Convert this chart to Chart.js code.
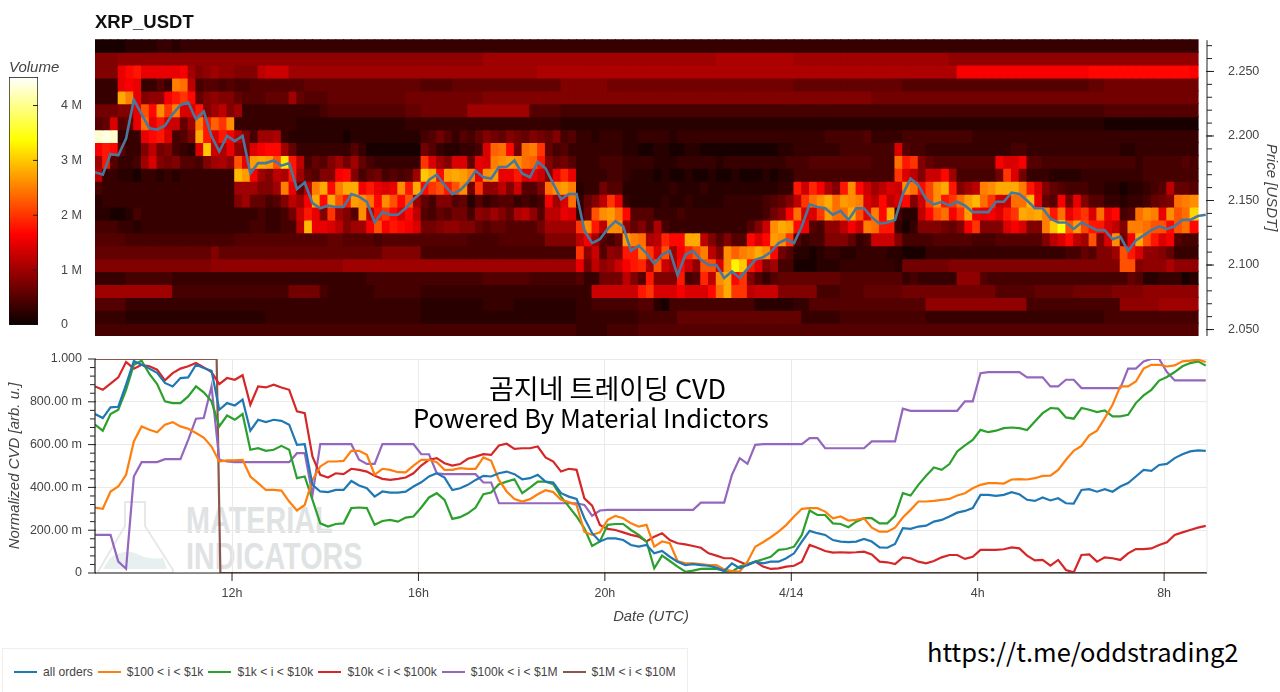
<!DOCTYPE html>
<html>
<head>
<meta charset="utf-8">
<title>XRP_USDT</title>
<script src="https://cdn.jsdelivr.net/npm/chart.js@4/dist/chart.umd.min.js"></script>
<style>
  html, body { margin: 0; padding: 0; background: #fff; width: 1280px; height: 692px; overflow: hidden; }
  canvas { position: absolute; display: block; }
  #barCanvas { left: 0; top: 55px; }
  #heatCanvas { left: 0; top: 0; }
  #cvdCanvas { left: 0; top: 345px; }
  .note { position: absolute; color: #000; white-space: nowrap; font-family: "Noto Sans CJK KR", "Noto Sans", sans-serif; }
  .mark { position: absolute; left: 186px; color: #dfe3e3; font: bold 36px "Liberation Sans", sans-serif; transform: scaleX(0.8); transform-origin: left top; white-space: nowrap; }
  #flask { position: absolute; left: 95px; top: 500px; }
  #legend { position: absolute; left: 2px; top: 648px; width: 686px; height: 48px; box-sizing: border-box; border: 1px solid #eee; display: flex; align-items: center; padding-left: 11px; font: 12.1px "Liberation Sans", sans-serif; color: #444; }
  #legend i { display: inline-block; width: 23px; height: 2px; margin-right: 6px; }
  #legend span { margin-right: 5px; white-space: nowrap; display: flex; align-items: center; }
</style>
</head>
<body>
<svg id="flask" width="82" height="74" viewBox="0 0 82 74">
  <path d="M30 2 H50 V26 L78 70 Q79 73 75 73 H6 Q2 73 4 70 L30 26 Z" fill="none" stroke="#e6e9e9" stroke-width="2"/>
  <path d="M15 58 Q30 48 42 54 T68 58 L72 69 H8 Z" fill="#e8efef"/>
</svg>
<div class="mark" style="top:500px">MATERIAL</div>
<div class="mark" style="top:536px">INDICATORS</div>
<canvas id="barCanvas" width="95" height="280"></canvas>
<canvas id="heatCanvas" width="1280" height="345"></canvas>
<canvas id="cvdCanvas" width="1280" height="285"></canvas>
<div class="note" style="left:489px;top:368px;font-size:27px">곰지네 트레이딩 CVD</div>
<div class="note" style="left:413px;top:398px;font-size:25.7px">Powered By Material Indictors</div>
<div class="note" style="left:927px;top:632px;font-size:25.5px">https://t.me/oddstrading2</div>
<div id="legend"></div>
<script>
// hours counted from 00:00 on 4/13, axis runs 09:04 to 08:55 next day
const hourMin = 9.06
const hourMax = 32.92
const xTickHours = [12, 16, 20, 24, 28, 32]
const xTickLabels = ['12h', '16h', '20h', '4/14', '4h', '8h']

const priceBins = [2.27, 2.26, 2.25, 2.24, 2.23, 2.22, 2.21, 2.20, 2.19, 2.18, 2.17, 2.16, 2.15, 2.14, 2.13, 2.12, 2.11, 2.10, 2.09, 2.08, 2.07, 2.06, 2.05]
const priceTicks = [2.05, 2.10, 2.15, 2.20, 2.25]
const volumeTicks = [0, 1, 2, 3, 4]
const volumeTickLabels = ['0', '1 M', '2 M', '3 M', '4 M']
const cvdTicks = [0, 200, 400, 600, 800, 1000]
const cvdTickLabels = ['0', '200.00 m', '400.00 m', '600.00 m', '800.00 m', '1.000']
const cvdMinorTicks = [40, 80, 120, 160, 240, 280, 320, 360, 440, 480, 520, 560, 640, 680, 720, 760, 840, 880, 920, 960]

const seriesNames = ['all orders', '$100 < i < $1k', '$1k < i < $10k', '$10k < i < $100k', '$100k < i < $1M', '$1M < i < $10M']
const seriesColors = ['#1f77b4', '#ff7f0e', '#2ca02c', '#d62728', '#9467bd', '#8c564b']

// volume per price bin, one value per 10 min column, unit 0.1 M
const vol227 = [1,1,1,1,2,2,2,2,3,3, 2,3,3,3,3,3,3,3,3,3, 3,3,3,3,3,3,3,3,3,3, 3,3,3,3,3,3,3,3,3,3, 3,3,3,3,3,3,3,3,3,3, 3,3,3,3,3,3,3,3,3,3, 3,3,3,3,3,3,3,3,3,3, 3,3,3,3,3,3,3,3,3,3, 3,3,3,3,3,3,3,3,3,3, 3,3,3,3,3,3,3,3,3,3, 3,3,3,3,3,3,3,3,3,3, 3,3,3,3,3,3,3,3,3,3, 3,3,3,3,3,3,3,3,3,3, 3,3,3,3,3,3,3,3,3,3, 3,3]
const vol226 = [8,8,8,9,9,9,9,9,9,9, 9,9,9,9,9,9,9,9,9,9, 9,9,9,9,9,9,9,9,9,9, 9,9,9,9,9,9,9,9,9,9, 9,9,9,9,9,9,9,9,9,9, 10,10,10,10,10,10,10,10,10,10, 10,10,10,10,10,10,10,10,10,10, 10,10,10,10,10,10,10,10,10,10, 11,11,11,11,11,11,11,11,11,11, 10,10,10,10,10,10,10,10,10,10, 10,10,10,10,10,10,10,10,10,10, 9,9,9,9,9,9,9,9,9,9, 9,9,9,9,9,9,9,9,9,9, 9,9,9,9,9,9,9,9,9,9, 9,9]
const vol225 = [8,8,8,15,17,18,15,15,15,15, 15,16,10,8,9,10,9,9,8,8, 8,12,13,13,13,10,10,10,10,10, 10,10,10,10,10,10,10,10,10,10, 10,10,10,10,10,10,10,10,10,10, 10,10,10,10,10,10,10,11,11,11, 11,11,11,11,11,11,11,11,11,11, 11,11,11,11,11,11,11,11,11,11, 11,11,11,11,11,11,11,11,11,11, 11,11,11,11,11,11,11,11,11,11, 11,11,11,11,11,11,11,11,11,11, 11,16,16,16,16,16,16,16,16,16, 16,16,16,16,16,16,16,16,17,17, 17,17,17,17,17,17,17,17,17,17, 17,16]
const vol224 = [3,3,3,15,16,15,3,3,5,3, 25,24,12,4,5,5,4,5,4,4, 5,5,5,5,5,5,5,6,6,6, 6,6,6,6,6,6,6,6,6,6, 6,6,5,5,5,5,6,6,6,6, 6,6,6,6,6,6,6,6,6,6, 8,8,8,8,8,8,7,7,7,7, 7,7,7,7,7,7,7,7,7,7, 7,7,7,7,7,7,7,7,7,7, 6,6,6,6,6,6,6,6,6,6, 6,6,6,6,5,5,5,5,5,5, 5,5,5,5,5,5,5,5,5,5, 5,5,5,5,5,5,5,5,6,6, 7,7,7,7,7,7,7,7,7,7, 7,7]
const vol223 = [3,3,3,28,25,15,8,9,9,16, 18,20,17,6,8,9,8,8,6,5, 5,5,6,6,6,10,6,5,5,5, 6,6,6,6,6,6,6,6,6,6, 7,7,7,7,7,7,7,7,7,7, 8,8,8,8,8,8,8,8,8,8, 8,8,8,8,8,8,8,8,8,8, 8,8,8,8,8,8,8,8,8,8, 8,8,8,8,8,8,8,8,8,8, 8,8,8,8,8,8,8,8,8,8, 7,7,7,7,7,7,7,7,7,7, 7,7,7,7,7,7,7,7,7,7, 7,7,7,7,7,7,7,7,7,7, 7,7,7,7,7,7,7,7,7,7, 7,7]
const vol222 = [7,7,7,8,8,15,22,17,26,20, 25,14,14,18,8,10,12,8,10,3, 3,3,3,3,3,3,3,3,3,4, 5,5,5,5,5,5,5,5,5,5, 6,6,7,7,7,7,7,7,10,10, 10,10,10,10,10,10,5,5,5,5, 4,4,4,4,4,4,4,4,4,4, 4,4,4,4,4,4,4,4,4,4, 4,4,4,4,4,4,4,4,4,4, 4,4,4,4,4,4,4,4,4,4, 4,4,4,4,4,4,4,4,4,4, 4,4,4,4,4,4,4,4,4,4, 4,4,4,4,4,4,4,4,4,4, 5,5,5,5,5,5,5,5,5,5, 5,5]
const vol221 = [5,6,14,5,6,15,24,15,18,13, 13,6,10,25,18,23,20,26,3,3, 3,3,3,3,3,3,2,2,2,2, 2,2,2,2,2,2,2,2,2,2, 3,3,3,3,3,3,3,3,3,3, 3,3,3,3,3,3,3,3,3,3, 2,2,2,2,2,2,2,2,2,2, 2,2,2,2,2,2,2,2,2,2, 2,2,2,2,2,2,2,2,2,2, 2,2,2,2,2,2,2,2,2,2, 2,2,2,2,2,2,2,2,2,2, 2,2,2,2,2,2,2,2,2,2, 2,2,2,2,2,2,2,2,2,2, 1,1,1,1,1,1,1,1,1,1, 1,1]
const vol220 = [43,44,43,3,3,3,15,17,18,14, 4,5,8,28,18,14,18,16,12,8, 4,10,10,11,3,2,2,2,2,2, 2,2,1,2,2,2,2,2,2,2, 2,2,4,5,7,5,3,5,4,6, 8,7,6,8,7,6,8,7,6,8, 4,5,3,3,2,3,3,3,2,2, 3,3,3,3,2,3,3,3,3,3, 3,3,3,3,3,3,3,3,3,3, 3,3,3,3,4,4,4,4,4,5, 3,3,3,3,4,4,4,4,4,4, 4,4,4,3,3,3,3,3,3,3, 3,3,3,3,3,3,3,3,3,3, 3,3,3,3,3,3,3,3,3,3, 3,3]
const vol219 = [16,18,17,5,3,3,8,12,7,8, 4,3,2,14,30,13,11,15,9,8, 14,16,17,17,10,6,3,3,3,3, 3,3,3,5,3,1,1,1,1,1, 1,1,7,5,3,2,2,3,3,4, 14,23,24,17,7,24,25,20,6,4, 5,3,3,3,3,3,3,3,2,2, 1,1,2,2,1,1,2,2,1,1, 1,1,1,1,1,1,1,1,2,2, 3,3,3,3,3,3,4,4,4,4, 4,4,4,14,5,4,4,3,3,3, 3,3,3,3,3,3,3,3,4,4, 3,3,3,3,3,3,3,3,3,3, 3,3,2,2,3,3,3,3,3,3, 3,3]
const vol218 = [10,18,5,3,3,4,10,14,8,7, 8,5,5,4,8,10,11,9,22,15, 27,28,27,22,32,18,12,4,6,5, 8,10,7,10,6,4,3,3,3,3, 3,3,20,14,10,8,14,14,6,15, 14,25,26,27,26,24,23,18,8,6, 7,5,3,3,3,4,4,4,3,3, 3,3,2,2,2,3,3,3,3,3, 2,3,3,3,3,3,3,3,3,4, 4,4,5,5,5,5,5,5,5,5, 4,4,4,24,18,20,8,6,5,5, 5,5,5,5,5,5,16,14,14,16, 5,5,4,4,4,4,4,4,4,4, 4,4,4,4,3,4,4,4,4,4, 5,4]
const vol217 = [12,3,3,2,2,1,3,3,2,3, 2,3,3,3,3,3,3,3,29,27, 16,10,8,12,11,18,10,6,5,8, 8,16,17,8,4,6,7,4,5,4, 5,10,30,28,17,27,28,27,25,15, 26,27,15,15,18,14,15,13,8,15, 19,15,3,3,3,3,4,4,3,2, 2,2,1,2,1,1,2,1,1,2, 1,1,2,1,1,1,2,1,2,2, 4,4,4,4,4,4,4,4,4,4, 4,4,4,20,14,12,8,13,13,17, 10,4,4,4,4,4,7,20,14,7, 3,3,3,2,2,2,2,3,3,3, 3,3,3,3,3,4,4,4,4,4, 4,4]
const vol216 = [4,3,3,3,3,3,3,3,3,3, 3,3,3,3,3,3,3,3,10,10, 10,8,8,10,25,15,6,12,25,28, 17,25,28,28,16,18,15,14,15,26, 18,28,17,20,22,18,22,26,7,20, 9,9,12,8,13,5,5,8,24,26, 27,25,2,3,3,7,5,5,2,2, 2,2,2,2,3,2,2,2,3,2, 2,2,2,2,2,2,2,2,3,3, 18,13,19,16,11,8,18,26,17,13, 10,12,14,13,26,24,17,21,26,28, 18,8,10,12,25,26,28,28,28,25, 18,14,8,6,5,4,4,4,3,3, 2,2,1,2,2,3,4,5,12,6, 6,5]
const vol215 = [2,3,3,3,3,3,3,3,3,3, 3,3,3,3,3,3,3,3,8,10, 6,6,4,5,8,12,10,16,28,17, 28,22,18,27,26,24,17,26,22,17, 22,10,6,4,8,8,5,6,2,5, 3,4,5,5,3,4,3,4,16,10, 14,24,3,6,8,12,20,15,3,2, 2,2,2,3,2,2,3,2,2,2, 2,3,3,3,3,3,4,5,6,8, 12,20,24,26,28,24,27,26,25,14, 12,17,12,14,17,8,13,21,26,18, 20,24,27,29,24,20,13,13,24,24, 29,15,6,5,16,7,15,8,5,5, 3,3,2,3,3,4,6,7,8,24, 25,26]
const vol214 = [2,2,1,1,2,4,3,3,3,3, 3,3,3,3,3,3,3,3,3,3, 3,4,3,3,4,7,13,18,15,8, 20,10,8,5,26,12,18,20,17,14, 17,12,5,4,6,5,7,7,4,9, 8,10,8,6,11,12,9,5,12,12, 15,14,3,7,22,26,27,24,17,5, 5,5,3,3,3,4,3,3,3,3, 3,3,3,3,3,3,4,7,9,16, 24,14,14,20,27,24,24,28,22,15, 25,17,28,4,2,2,12,17,22,24, 16,20,27,16,15,16,14,18,20,28, 27,28,25,18,24,15,18,20,14,24, 15,17,4,5,24,26,25,15,26,22, 24,31]
const vol213 = [4,4,4,3,3,2,3,3,3,3, 3,3,3,3,3,3,3,3,3,3, 4,4,3,3,4,4,12,29,15,15, 14,12,8,10,10,16,22,16,18,17, 16,14,7,7,8,9,9,8,8,6, 5,6,6,5,5,5,5,7,10,10, 10,10,20,26,18,12,26,26,9,6, 8,5,11,4,3,3,3,3,3,3, 3,3,3,3,5,8,13,26,28,27, 17,16,5,4,9,9,12,16,13,25, 24,18,18,3,1,3,8,8,8,7, 6,8,16,20,8,8,8,14,16,14, 8,8,25,30,34,22,27,21,18,18, 14,12,8,25,25,24,22,22,17,22, 24,17]
const vol212 = [5,5,5,5,4,4,4,4,4,4, 4,4,4,4,4,4,4,4,5,5, 5,5,5,5,5,5,5,5,5,5, 6,6,5,5,5,5,4,5,5,5, 5,5,5,5,5,5,5,5,4,4, 4,4,5,5,5,5,5,5,8,8, 8,8,12,16,10,5,4,6,27,25, 24,11,12,19,17,17,28,28,12,8, 5,8,5,5,17,14,17,27,26,20, 5,3,4,4,8,8,8,6,3,4, 13,13,13,8,4,4,4,4,5,5, 5,5,5,4,4,4,5,5,5,5, 5,5,8,12,14,17,12,10,22,8, 14,26,7,16,28,22,18,14,16,5, 4,4]
const vol211 = [6,6,6,6,6,6,6,6,6,6, 6,6,6,6,6,8,6,6,6,6, 6,6,6,6,6,6,6,6,6,6, 6,6,6,6,6,6,6,8,8,8, 8,8,4,4,4,4,4,4,4,4, 4,4,4,4,4,4,4,4,4,4, 4,4,20,9,13,5,9,8,18,18, 25,20,14,22,10,16,19,22,25,12, 8,26,23,25,26,28,26,17,7,5, 2,2,1,2,3,3,2,2,3,3, 3,3,2,2,1,1,1,3,3,3, 3,3,3,3,3,3,3,3,3,3, 3,3,3,3,3,4,4,6,5,8, 8,10,22,18,14,9,9,8,6,3, 3,3]
const vol210 = [8,8,8,8,8,8,8,8,8,8, 8,8,8,8,8,9,9,9,9,9, 9,9,9,9,9,9,9,9,9,9, 9,9,10,10,10,10,10,10,10,10, 10,10,10,10,10,10,10,10,10,10, 10,10,10,10,10,10,10,10,10,10, 10,10,15,7,12,9,10,13,16,18, 19,11,22,13,11,17,13,9,22,22, 14,26,33,30,18,15,8,10,4,4, 1,1,1,2,2,2,3,3,3,3, 3,3,3,2,7,7,7,7,7,7, 8,8,8,8,8,8,8,8,8,8, 8,8,8,8,8,8,8,8,8,8, 8,8,22,22,8,9,9,9,11,9, 9,9]
const vol209 = [3,3,3,3,4,4,4,4,4,4, 3,3,3,3,3,3,3,3,3,3, 3,3,3,3,3,3,3,3,3,3, 3,3,3,3,3,4,4,4,4,4, 4,4,4,4,4,4,4,4,4,4, 5,5,5,5,5,5,4,4,4,4, 4,4,5,3,3,7,7,7,12,8, 5,18,8,8,8,18,4,5,19,12, 26,28,17,20,8,5,3,5,6,6, 6,6,6,6,6,6,5,5,5,5, 5,5,5,5,3,4,3,3,3,3, 3,9,9,9,5,4,4,4,4,4, 4,4,4,4,4,4,4,4,4,4, 4,4,4,6,5,2,2,3,3,3, 1,2]
const vol208 = [10,10,10,10,10,10,10,10,10,10, 4,4,4,4,4,4,4,4,4,4, 4,4,4,4,4,7,7,7,7,4, 3,3,3,3,3,3,4,4,4,4, 4,4,3,3,3,3,3,3,3,3, 3,3,3,3,3,3,3,3,3,3, 3,3,3,3,13,13,13,13,13,13, 18,20,14,14,14,16,14,14,14,17, 24,28,20,20,12,13,13,13,8,8, 8,8,8,4,4,4,5,5,5,6, 6,6,6,6,7,7,7,7,7,7, 7,7,7,7,7,7,5,5,5,5, 5,6,6,6,6,6,7,7,7,7, 7,8,8,8,8,9,9,9,9,9, 9,9]
const vol207 = [5,5,5,5,3,3,3,3,3,3, 3,3,3,3,3,3,3,3,3,3, 3,3,3,3,3,3,3,3,3,3, 3,3,3,3,3,3,3,3,3,3, 3,3,2,2,2,2,2,2,2,2, 3,3,3,3,2,2,2,2,2,2, 2,2,3,3,4,4,4,4,4,4, 5,5,2,1,4,4,4,4,4,4, 4,4,4,4,4,2,2,2,2,2, 3,3,5,5,5,5,5,5,5,5, 5,5,5,5,5,5,5,9,9,9, 9,9,9,9,9,9,9,9,9,9, 4,4,4,4,4,4,4,4,4,4, 4,4,9,9,9,9,9,10,10,10, 10,10]
const vol206 = [3,3,3,3,2,2,2,2,2,2, 2,2,2,2,2,2,2,2,2,2, 2,2,3,3,3,3,3,3,3,3, 3,3,3,3,3,3,3,3,3,3, 3,3,2,2,2,2,2,2,2,2, 2,2,2,2,2,2,2,2,2,2, 2,2,3,3,3,3,3,3,3,3, 4,4,4,4,4,6,6,6,6,6, 6,6,6,6,6,6,6,6,6,6, 6,3,3,3,3,3,4,4,4,4, 4,4,4,4,4,4,4,3,3,3, 3,3,3,3,3,3,3,3,3,3, 3,3,3,3,3,3,3,3,3,3, 4,4,4,4,4,4,4,4,4,4, 4,4]
const vol205 = [4,4,4,4,4,4,4,4,4,4, 4,4,4,4,4,4,4,4,4,4, 4,4,4,4,4,4,4,4,4,4, 4,4,4,4,4,4,4,4,4,4, 4,4,4,4,4,4,4,4,4,4, 4,4,4,4,4,4,4,4,4,4, 4,4,3,3,3,3,4,4,4,4, 5,5,5,5,5,5,5,5,5,5, 5,5,5,5,5,5,5,5,5,5, 5,5,5,5,5,5,5,5,5,5, 5,5,5,5,5,5,5,5,5,5, 5,5,5,5,5,5,5,5,5,5, 5,5,5,5,5,5,5,5,5,5, 5,5,5,5,5,5,5,5,5,5, 5,5]
const volumeRows = [vol227, vol226, vol225, vol224, vol223, vol222, vol221, vol220, vol219, vol218, vol217, vol216, vol215, vol214, vol213, vol212, vol211, vol210, vol209, vol208, vol207, vol206, vol205]

// samples every 10 min
const priceLine = [
  2.172,2.170,2.186,2.185,2.198,2.228,2.217,2.206,2.205,2.208,
  2.217,2.224,2.226,2.213,2.219,2.200,2.188,2.200,2.196,2.200,
  2.171,2.179,2.179,2.181,2.177,2.179,2.159,2.164,2.148,2.144,
  2.146,2.145,2.145,2.155,2.153,2.149,2.133,2.141,2.139,2.139,
  2.144,2.151,2.156,2.166,2.170,2.162,2.155,2.158,2.164,2.173,
  2.168,2.167,2.176,2.176,2.181,2.171,2.168,2.180,2.175,2.163,
  2.151,2.155,2.155,2.127,2.117,2.120,2.128,2.134,2.130,2.111,
  2.115,2.109,2.101,2.108,2.111,2.092,2.108,2.111,2.104,2.100,
  2.100,2.090,2.095,2.090,2.097,2.104,2.106,2.110,2.117,2.120,
  2.117,2.130,2.147,2.145,2.144,2.139,2.142,2.135,2.144,2.144,
  2.137,2.132,2.133,2.135,2.155,2.167,2.162,2.151,2.147,2.149,
  2.146,2.149,2.146,2.141,2.141,2.141,2.149,2.149,2.156,2.155,
  2.150,2.144,2.144,2.136,2.133,2.133,2.128,2.133,2.130,2.127,
  2.127,2.120,2.122,2.111,2.119,2.123,2.127,2.130,2.128,2.130,
  2.135,2.135,2.138,2.139
]
const cvdAllOrders = [
  743,724,774,777,880,990,973,955,935,888,
  872,911,914,973,958,945,763,794,783,810,
  665,716,705,716,711,693,599,602,412,381,
  378,388,388,430,409,396,357,381,376,376,
  380,404,424,451,466,446,388,396,412,435,
  454,451,466,474,462,438,443,459,427,423,
  373,357,346,256,186,147,162,162,154,131,
  123,131,92,103,76,53,37,41,37,34,
  25,9,45,22,37,53,45,53,53,69,
  92,147,197,186,178,154,147,144,147,159,
  147,120,118,136,209,206,217,221,240,248,
  264,282,290,303,365,365,360,365,378,368,
  342,337,353,339,349,326,324,388,392,380,
  392,380,404,420,451,482,477,505,510,537,
  555,568,573,571
]
const cvd100to1k = [
  306,300,381,404,459,615,685,669,658,693,
  705,685,674,654,633,591,521,526,526,529,
  451,420,388,388,385,334,292,318,435,498,
  521,521,524,571,571,552,459,487,482,471,
  470,502,529,529,518,482,482,490,487,487,
  540,524,435,381,346,334,345,368,387,378,
  342,331,318,193,178,190,248,267,256,232,
  217,225,123,147,139,56,45,45,42,37,
  37,17,9,6,53,123,144,167,193,225,
  264,300,303,303,287,256,264,245,248,256,
  212,193,193,212,259,295,334,334,337,342,
  346,362,373,396,412,420,420,418,437,439,
  437,443,454,455,482,529,571,594,643,665,
  724,786,872,872,895,955,973,973,965,970,
  989,992,997,986
]
const cvd1kto10k = [
  693,665,743,763,856,973,992,930,883,802,
  794,794,825,872,844,802,685,736,716,743,
  576,583,571,576,594,576,443,451,342,232,
  217,229,232,303,306,303,225,243,248,240,
  259,264,306,353,373,342,253,261,279,306,
  368,376,415,427,438,373,399,427,427,415,
  357,310,264,209,126,147,225,229,229,201,
  178,147,22,81,56,30,6,11,19,20,
  19,11,6,30,42,53,64,76,108,112,
  123,178,292,271,271,232,229,214,240,256,
  256,232,232,268,373,362,412,454,493,482,
  509,568,596,622,669,658,665,677,680,677,
  668,708,747,771,768,727,721,771,763,752,
  760,732,732,739,794,830,856,899,916,939,
  966,981,989,969
]
const cvd10kto100k = [
  872,856,885,914,986,955,973,966,950,900,
  934,955,966,981,961,939,883,911,903,924,
  786,872,867,880,867,856,755,747,544,459,
  446,466,462,487,482,474,454,440,435,440,
  446,466,502,529,537,513,502,509,534,544,
  555,552,596,604,580,583,583,591,540,521,
  474,487,482,349,315,225,206,201,190,178,
  170,147,170,186,154,139,134,126,118,92,
  81,69,69,53,37,53,30,19,22,30,
  34,53,131,118,103,95,97,95,97,100,
  87,53,50,42,73,69,53,45,56,73,
  84,84,66,76,108,108,108,111,120,115,
  81,59,61,34,61,14,3,84,87,53,
  73,69,61,92,112,112,115,131,144,178,
  190,201,212,220
]
const cvd100kto1M = [
  178,178,178,53,20,451,518,518,518,532,
  532,532,622,721,724,872,529,521,518,518,
  518,518,518,518,518,518,560,560,365,602,
  602,602,602,602,529,510,510,602,602,602,
  602,602,555,555,466,462,462,462,462,462,
  423,423,326,326,326,326,326,326,326,326,
  326,326,326,318,268,292,295,295,295,295,
  295,295,295,295,295,295,295,295,329,329,
  329,329,459,537,510,599,602,602,602,602,
  602,602,630,630,583,583,583,583,583,583,
  615,615,615,615,768,758,758,758,758,758,
  758,758,802,802,934,939,939,939,939,939,
  914,914,914,872,872,903,903,864,864,864,
  864,864,864,955,955,989,1000,1000,939,900,
  900,900,900,900
]
// this one only has its single drop
const cvd1Mto10MHours = [9.06, 11.67, 11.75, 32.92]
const cvd1Mto10M = [1000, 1000, 0, 0]

const textColor = '#444'
const fontFamily = '"Liberation Sans", Arial, sans-serif'

function hotColor(t) {
  t = Math.min(1, Math.max(0, t))
  let r = t < 0.365 ? 0.04 + 0.96 * t / 0.365 : 1
  let g = t < 0.365 ? 0 : Math.min(1, (t - 0.365) / 0.381)
  let b = t < 0.746 ? 0 : (t - 0.746) / 0.254
  return `rgb(${Math.round(r * 255)},${Math.round(g * 255)},${Math.round(b * 255)})`
}

function hoursAt(i) {
  return hourMin + i / 6
}

function timeline(values) {
  return values.map((v, i) => ({ x: hoursAt(i), y: v }))
}

function line(ctx, x1, y1, x2, y2) {
  ctx.beginPath()
  ctx.moveTo(x1, y1)
  ctx.lineTo(x2, y2)
  ctx.stroke()
}

// keeps the plot box exact, no room reserved for half a label
function noLabelPadding(s) {
  s.paddingTop = 0
  s.paddingBottom = 0
  s.paddingLeft = 0
  s.paddingRight = 0
}

Chart.defaults.animation = false
Chart.defaults.responsive = false
Chart.defaults.font.family = fontFamily

// colour bar
new Chart(document.getElementById('barCanvas'), {
  type: 'bar',
  data: {
    labels: ['Volume'],
    datasets: [{
      data: [[0, 4.52]],
      barPercentage: 1,
      categoryPercentage: 1,
      borderWidth: 1,
      borderColor: '#111',
      borderSkipped: false,
      backgroundColor(c) {
        let area = c.chart.chartArea
        if (!area) return '#000'
        let g = c.chart.ctx.createLinearGradient(0, area.bottom, 0, area.top)
        for (let t of [0, 0.1, 0.2, 0.3, 0.365, 0.45, 0.55, 0.65, 0.746, 0.85, 1]) g.addColorStop(t, hotColor(t))
        return g
      }
    }]
  },
  options: {
    layout: { padding: { left: 9, top: 4, bottom: 10 } },
    plugins: {
      legend: { display: false },
      tooltip: { enabled: false },
      title: { display: true, text: 'Volume', align: 'start', color: textColor, font: { size: 15, style: 'italic', weight: 'normal' }, padding: { top: 0, bottom: 0 } }
    },
    scales: {
      x: { display: false },
      y: {
        position: 'right',
        min: 0,
        max: 4.52,
        grid: { display: false },
        border: { display: false },
        afterFit(s) { s.width = 57; noLabelPadding(s) },
        afterBuildTicks(s) { s.ticks = volumeTicks.map(v => ({ value: v })) },
        ticks: { padding: 15, color: textColor, font: { size: 12.5 }, callback: v => volumeTickLabels[volumeTicks.indexOf(v)] }
      }
    }
  },
  plugins: [{
    id: 'barTicks',
    afterDraw(chart) {
      let ctx = chart.ctx
      let s = chart.scales.y
      ctx.save()
      ctx.strokeStyle = '#222'
      volumeTicks.forEach(v => {
        if (v > 0) line(ctx, chart.chartArea.right - 5, s.getPixelForValue(v), chart.chartArea.right, s.getPixelForValue(v))
      })
      ctx.restore()
    }
  }]
})

// heat map + price
let heatSets = [{
  type: 'line',
  data: timeline(priceLine),
  borderColor: '#47799f',
  borderWidth: 2.6,
  pointRadius: 0,
  tension: 0,
  order: 0
}]
volumeRows.forEach((row, r) => {
  heatSets.push({
    type: 'bar',
    data: row.map((v, c) => ({ x: hoursAt(c + 0.5), y: [priceBins[r] - 0.005, priceBins[r] + 0.005] })),
    backgroundColor: row.map(v => hotColor(v / 45.2)),
    barPercentage: 1,
    categoryPercentage: 1,
    inflateAmount: 0.6,
    order: 1
  })
})

new Chart(document.getElementById('heatCanvas'), {
  type: 'bar',
  data: { datasets: heatSets },
  options: {
    layout: { padding: { left: 95, top: 12, bottom: 9 } },
    plugins: {
      legend: { display: false },
      tooltip: { enabled: false },
      title: { display: true, text: 'XRP_USDT', align: 'start', color: '#111', font: { size: 18.5, weight: 'bold' }, padding: { top: 0, bottom: 5 } }
    },
    scales: {
      x: { type: 'linear', min: hourMin, max: hourMax, offset: false, display: false, stacked: true },
      y: {
        type: 'linear',
        position: 'right',
        min: 2.045,
        max: 2.275,
        grid: { display: false },
        border: { display: false },
        afterFit(s) { s.width = 73; noLabelPadding(s) },
        afterBuildTicks(s) { s.ticks = priceTicks.map(v => ({ value: v })) },
        ticks: { padding: 13, color: textColor, font: { size: 12.5 }, callback: v => v.toFixed(3) },
        title: { display: true, text: 'Price [USDT]', color: textColor, font: { size: 15, style: 'italic' }, padding: { top: 0, bottom: 2 } }
      }
    }
  },
  plugins: [{
    id: 'priceTicks',
    afterDraw(chart) {
      let ctx = chart.ctx
      let s = chart.scales.y
      let x = chart.chartArea.right
      ctx.save()
      ctx.strokeStyle = '#222'
      line(ctx, x, chart.chartArea.top + 1, x, chart.chartArea.bottom)
      priceBins.forEach(v => line(ctx, x, s.getPixelForValue(v), x + 5, s.getPixelForValue(v)))
      priceTicks.forEach(v => line(ctx, x - 1, s.getPixelForValue(v), x + 7, s.getPixelForValue(v)))
      ctx.restore()
    }
  }]
})

// CVD lines
const cvdSeries = [cvdAllOrders, cvd100to1k, cvd1kto10k, cvd10kto100k, cvd100kto1M]
let cvdSets = cvdSeries.map((values, n) => ({
  label: seriesNames[n],
  data: timeline(values),
  borderColor: seriesColors[n],
  borderWidth: 2.2,
  pointRadius: 0,
  tension: 0
}))
cvdSets.push({
  label: seriesNames[5],
  data: cvd1Mto10M.map((v, i) => ({ x: cvd1Mto10MHours[i], y: v })),
  borderColor: seriesColors[5],
  borderWidth: 2.2,
  pointRadius: 0,
  tension: 0
})

new Chart(document.getElementById('cvdCanvas'), {
  type: 'line',
  data: { datasets: cvdSets },
  options: {
    layout: { padding: { top: 14, right: 73 } },
    plugins: { legend: { display: false }, tooltip: { enabled: false } },
    scales: {
      x: {
        type: 'linear',
        min: hourMin,
        max: hourMax,
        grid: { color: '#e9e9e9', drawTicks: false },
        border: { display: false },
        afterFit(s) { s.height = 57; noLabelPadding(s) },
        afterBuildTicks(s) { s.ticks = xTickHours.map(v => ({ value: v })) },
        ticks: { padding: 13, maxRotation: 0, color: textColor, font: { size: 12.5 }, callback: v => xTickLabels[xTickHours.indexOf(v)] },
        title: { display: true, text: 'Date (UTC)', color: textColor, font: { size: 14.8, style: 'italic' }, padding: { top: 0, bottom: 4 } }
      },
      y: {
        min: 0,
        max: 1000,
        grid: { color: '#e9e9e9', drawTicks: false },
        border: { display: false },
        afterFit(s) { s.width = 95; noLabelPadding(s) },
        afterBuildTicks(s) { s.ticks = cvdTicks.map(v => ({ value: v })) },
        ticks: { padding: 13, color: textColor, font: { size: 12.5 }, callback: v => cvdTickLabels[cvdTicks.indexOf(v)] },
        title: { display: true, text: 'Normalized CVD [arb. u.]', color: textColor, font: { size: 15, style: 'italic' }, padding: { top: 6, bottom: 0 } }
      }
    }
  },
  plugins: [{
    id: 'cvdAxes',
    afterDraw(chart) {
      let ctx = chart.ctx
      let a = chart.chartArea
      let sx = chart.scales.x
      let sy = chart.scales.y
      ctx.save()
      ctx.strokeStyle = '#e9e9e9'
      line(ctx, a.right, a.top, a.right, a.bottom)
      ctx.strokeStyle = '#222'
      ctx.lineWidth = 1.2
      line(ctx, a.left, a.top, a.left, a.bottom)
      line(ctx, a.left, a.bottom, a.right, a.bottom)
      ctx.lineWidth = 1
      cvdMinorTicks.forEach(v => line(ctx, a.left - 5, sy.getPixelForValue(v), a.left, sy.getPixelForValue(v)))
      cvdTicks.forEach(v => line(ctx, a.left - 7, sy.getPixelForValue(v), a.left + 1, sy.getPixelForValue(v)))
      xTickHours.forEach(v => line(ctx, sx.getPixelForValue(v), a.bottom - 1, sx.getPixelForValue(v), a.bottom + 8))
      ctx.restore()
    }
  }]
})

let legendDiv = document.getElementById('legend')
seriesNames.forEach((name, n) => {
  let item = document.createElement('span')
  let swatch = document.createElement('i')
  swatch.style.background = seriesColors[n]
  item.appendChild(swatch)
  item.appendChild(document.createTextNode(name))
  legendDiv.appendChild(item)
})
</script>
</body>
</html>
